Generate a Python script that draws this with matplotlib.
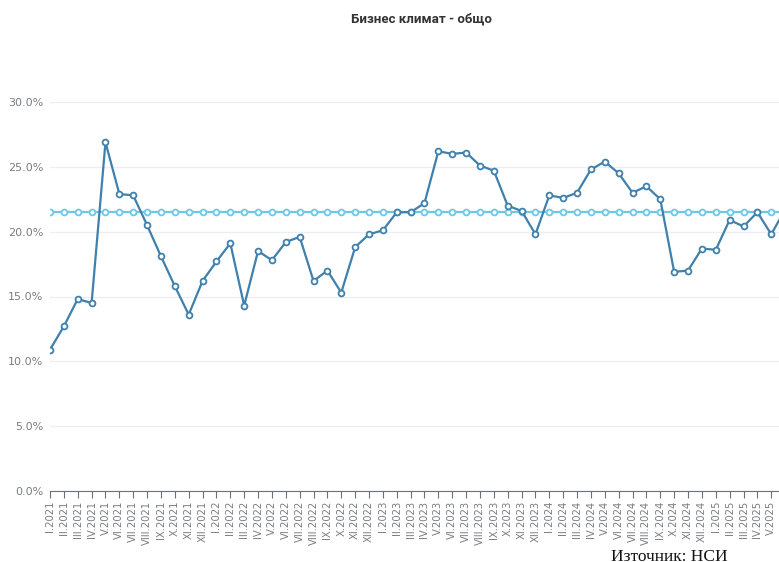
import matplotlib
matplotlib.use("Agg")
import matplotlib.pyplot as plt
from matplotlib.ticker import FuncFormatter

roman = ["I", "II", "III", "IV", "V", "VI", "VII", "VIII", "IX", "X", "XI", "XII"]
years = [2021, 2022, 2023, 2024, 2025]
months = [f"{r}.{y}" for y in years for r in roman][:54]

values = [10.9, 12.7, 14.8, 14.5, 26.9, 22.9, 22.8, 20.5, 18.1, 15.8, 13.6, 16.2,
          17.7, 19.1, 14.3, 18.5, 17.8, 19.2, 19.6, 16.2, 17.0, 15.3, 18.8, 19.8,
          20.1, 21.5, 21.5, 22.2, 26.2, 26.0, 26.1, 25.1, 24.7, 22.0, 21.6, 19.8,
          22.8, 22.6, 23.0, 24.8, 25.4, 24.5, 23.0, 23.5, 22.5, 16.9, 17.0, 18.7,
          18.6, 20.9, 20.4, 21.5, 19.8, 21.7]
average = [21.5] * len(values)

W, H = 779, 562
fig = plt.figure(figsize=(W / 100, H / 100), dpi=100)
left_px, right_px, top_px, bottom_px = 50, 779, 102, 491
ax = fig.add_axes([left_px / W, (H - bottom_px) / H, (right_px - left_px) / W, (bottom_px - top_px) / H])

x = list(range(len(values)))
ax.plot(x, average, color="#6cc8e6", lw=1.6, marker="o", ms=4.2, mfc="white",
        mec="#6cc8e6", mew=1.3, zorder=2, clip_on=True)
ax.plot(x, values, color="#3f80ad", lw=1.6, marker="o", ms=4.2, mfc="white",
        mec="#3f80ad", mew=1.3, zorder=3, clip_on=True)

ax.set_xlim(0, (right_px - left_px) / 13.87)
ax.set_ylim(0, 30)
ax.set_yticks([0, 5, 10, 15, 20, 25, 30])
ax.yaxis.set_major_formatter(FuncFormatter(lambda v, p: f"{v:.1f}%"))
ax.grid(axis="y", color="#eceef4", lw=0.9, zorder=0)
ax.set_axisbelow(True)

shown = 53
ax.set_xticks(x[:shown])
ax.set_xticklabels(months[:shown], rotation=90, fontsize=7.2, color="#7a7c85")
ax.tick_params(axis="x", length=5, color="#6e7079", width=0.8, pad=2)
ax.tick_params(axis="y", length=0, labelsize=8, labelcolor="#7a7c85", pad=5)

for s in ["top", "right", "left"]:
    ax.spines[s].set_visible(False)
ax.spines["bottom"].set_color("#6e7079")
ax.spines["bottom"].set_linewidth(0.8)

fig.text(421 / W, 1 - 19 / H, "Бизнес климат - общо", ha="center", va="center",
         fontsize=9.5, fontweight="bold", family="Roboto", color="#333333")
fig.text(611 / W, 1 - 561 / H, "Източник: НСИ", ha="left", va="baseline",
         fontsize=12.5, family="Liberation Serif", color="#111111")

fig.savefig("out.png", dpi=100)
